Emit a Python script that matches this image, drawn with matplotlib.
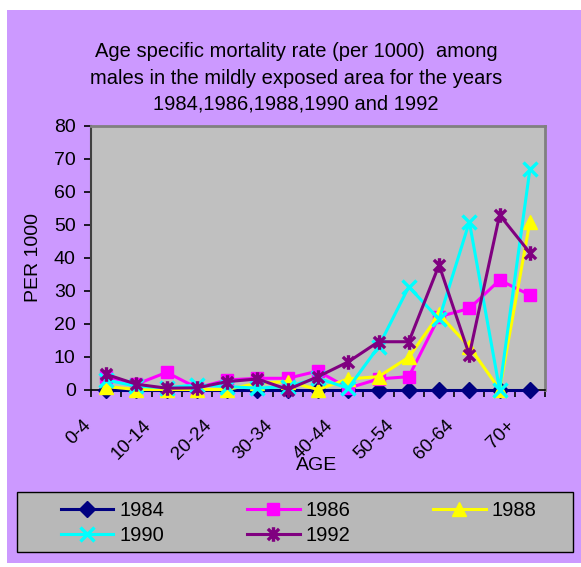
import numpy as np
import matplotlib
matplotlib.use("Agg")
import matplotlib.pyplot as plt
import matplotlib.transforms as mtrans
from matplotlib.path import Path
from matplotlib.patches import Rectangle

plt.rcParams['font.family'] = ['Liberation Sans', 'DejaVu Sans']

# age groups (15 categories, every other one labelled)
ages = ['0-4', '5-9', '10-14', '15-19', '20-24', '25-29', '30-34', '35-39',
        '40-44', '45-49', '50-54', '55-59', '60-64', '65-69', '70+']

# mortality per 1000
y1984 = [0, 0, 0, 0, 0, 0, 0, 0, 0, 0, 0, 0, 0, 0, 0]
y1986 = [3.9, 1.6, 5.2, 0.5, 2.9, 3.4, 3.4, 5.6, 0.4, 3.2, 3.9, 22.1, 24.6, 33.2, 28.7]
y1988 = [0.9, 0, 0, 0, 0, 1.9, 2.4, 0, 3.2, 3.9, 9.8, 22.8, 13.0, 0, 50.9]
y1990 = [2.9, 1.0, 0.5, 1.4, 0.9, 0.4, 0.9, 3.4, 0.4, 13.0, 31.2, 21.3, 50.9, 0, 66.8]
y1992 = [4.6, 1.6, 0.4, 0.5, 2.4, 3.2, 0, 3.9, 8.4, 14.5, 14.5, 37.8, 10.5, 53.0, 41.5]

# excel style star: an x with a vertical bar through it
star = Path([(-1, -1), (1, 1), (-1, 1), (1, -1), (0, -1.3), (0, 1.3)],
            [Path.MOVETO, Path.LINETO, Path.MOVETO, Path.LINETO,
             Path.MOVETO, Path.LINETO])

W, H = 581, 567
fig = plt.figure(figsize=(W / 100, H / 100), dpi=100)
fig.patch.set_facecolor('white')
# purple chart area (white strip on top/left)
fig.patches.append(Rectangle((7 / W, 1 - 563 / H), 1, (563 - 10) / H,
                             transform=fig.transFigure, facecolor='#CC99FF',
                             edgecolor='none', zorder=-10))

ax = fig.add_axes([91 / W, 1 - 389.5 / H, (545 - 91) / W, (389.5 - 126) / H])
ax.set_facecolor('#C0C0C0')

x = np.arange(len(ages))
lw = 2.2
h84, = ax.plot(x, y1984, color='#000080', lw=lw, marker='D', ms=8.5, clip_on=False, zorder=3)
h86, = ax.plot(x, y1986, color='#FF00FF', lw=lw, marker='s', ms=8.5, clip_on=False, zorder=4)
h88, = ax.plot(x, y1988, color='#FFFF00', lw=lw, marker='^', ms=10, clip_on=False, zorder=5)
h90, = ax.plot(x, y1990, color='#00FFFF', lw=lw, marker='x', ms=10.5, mew=2.4, clip_on=False, zorder=6)
h92, = ax.plot(x, y1992, color='#800080', lw=lw, marker=star, ms=10.5, mew=2.4, clip_on=False, zorder=7)

ax.set_xlim(-0.5, len(ages) - 0.5)
ax.set_ylim(0, 80)
ax.set_yticks(range(0, 81, 10))
ax.tick_params(axis='y', direction='out', length=5, width=1.2, labelsize=14, pad=6)

ax.set_xticks(x[::2])
ax.set_xticklabels(ages[::2], rotation=45, ha='right', va='center',
                   rotation_mode='anchor', fontsize=13.5)
ax.tick_params(axis='x', which='major', length=0, pad=24)
shift = mtrans.ScaledTranslation(-18 / 100, 0, fig.dpi_scale_trans)
for lab in ax.get_xticklabels():
    lab.set_transform(lab.get_transform() + shift)
ax.set_xticks(np.arange(-0.5, len(ages), 1.0), minor=True)
ax.tick_params(axis='x', which='minor', direction='out', length=5, width=1.2)

for s in ['top', 'right']:
    ax.spines[s].set_color('#808080')
    ax.spines[s].set_linewidth(2)
ax.spines['left'].set_color('#404040')
ax.spines['left'].set_linewidth(1.5)
ax.spines['bottom'].set_color('black')
ax.spines['bottom'].set_linewidth(1.2)

fig.text(34 / W, 1 - 258 / H, 'PER 1000', fontsize=14, rotation=90,
         ha='center', va='center')
fig.text(317 / W, 1 - 465 / H, 'AGE', fontsize=14, ha='center', va='center')

fig.text(296 / W, 1 - 78 / H,
         'Age specific mortality rate (per 1000)  among\n'
         'males in the mildly exposed area for the years\n'
         '1984,1986,1988,1990 and 1992',
         fontsize=14.5, ha='center', va='center', linespacing=1.5)

# legend frame and legend (row-major order like the original)
fig.patches.append(Rectangle((17 / W, 1 - 552 / H), (573 - 17) / W, 60 / H,
                             transform=fig.transFigure, facecolor='#B8B8B8',
                             edgecolor='black', lw=1, zorder=1))
leg = fig.legend([h84, h90, h86, h92, h88], ['1984', '1990', '1986', '1992', '1988'],
                 loc='center', bbox_to_anchor=(298.5 / W, 1 - 522.8 / H), ncol=3,
                 frameon=False, fontsize=14.5, handlelength=2.63, handletextpad=0.3,
                 columnspacing=4.08, labelspacing=0.3, borderpad=0)

fig.savefig('out.png', dpi=100)
